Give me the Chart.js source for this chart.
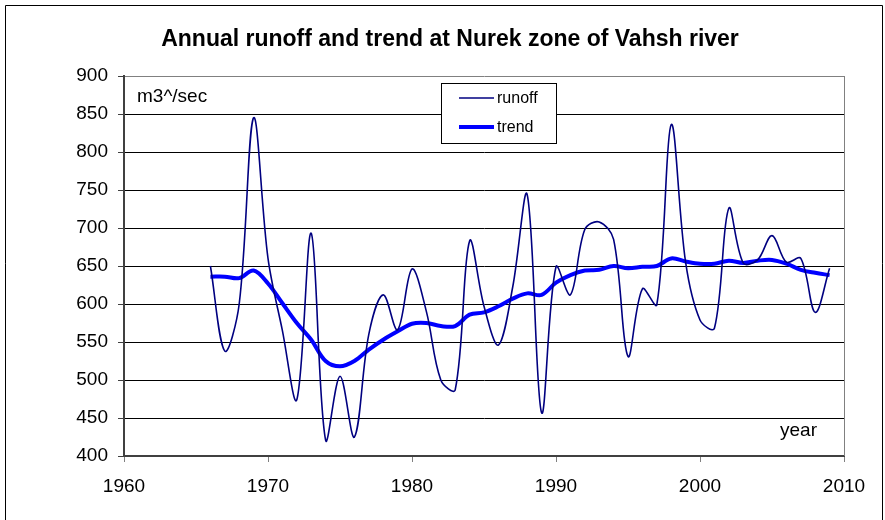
<!DOCTYPE html>
<html lang="en">
<head>
  <meta charset="UTF-8">
  <title>Annual runoff and trend at Nurek zone of Vahsh river</title>
  <script src="https://cdn.jsdelivr.net/npm/chart.js"></script>
  <style>
    html, body { margin: 0; padding: 0; background: #fff; }
    #wrap { width: 885px; height: 520px; position: relative; }
  </style>
</head>
<body>
  <div id="wrap"><canvas id="runoffChart" width="885" height="520"></canvas></div>

  <script>
    const years = [
      1966, 1967, 1968, 1969, 1970, 1971, 1972, 1973, 1974, 1975,
      1976, 1977, 1978, 1979, 1980, 1981, 1982, 1983, 1984, 1985,
      1986, 1987, 1988, 1989, 1990, 1991, 1992, 1993, 1994, 1995,
      1996, 1997, 1998, 1999, 2000, 2001, 2002, 2003, 2004, 2005,
      2006, 2007, 2008, 2009
    ];
    const runoff = [
      650, 538, 600, 845, 660, 565, 474, 693, 421, 505,
      425, 560, 612, 566, 646, 590, 500, 487, 683, 597,
      546, 623, 744, 457, 649, 612, 698, 708, 685, 531,
      620, 599, 836, 655, 579, 568, 726, 654, 658, 690,
      655, 660, 589, 647
    ];
    const trend = [
      636, 636, 634, 644, 627, 601, 575, 553, 525, 518,
      525, 540, 553, 564, 574, 575, 571, 571, 586, 589,
      597, 607, 614, 612, 628, 638, 644, 645, 650, 647,
      649, 650, 660, 656, 653, 653, 657, 654, 657, 658,
      653, 645, 641, 638
    ];
    const yearTicks = [1960, 1970, 1980, 1990, 2000, 2010];
    const titleText = 'Annual runoff and trend at Nurek zone of Vahsh river';
    const unitText = 'm3^/sec';
    const xAxisText = 'year';

    const FONT = '"Liberation Sans", Arial, sans-serif';

    // title, unit labels, legend box and outer frame
    const decorations = {
      id: 'decorations',
      afterDraw(chart) {
        const ctx = chart.ctx;
        const area = chart.chartArea;
        ctx.save();

        ctx.strokeStyle = '#000';
        ctx.lineWidth = 1;
        ctx.beginPath();
        ctx.moveTo(5.5, 530);
        ctx.lineTo(5.5, 5.5);
        ctx.lineTo(882.5, 5.5);
        ctx.lineTo(882.5, 530);
        ctx.stroke();

        // right edge of plot area
        ctx.strokeStyle = '#808080';
        ctx.beginPath();
        ctx.moveTo(Math.round(area.right) + 0.5, area.top);
        ctx.lineTo(Math.round(area.right) + 0.5, area.bottom);
        ctx.stroke();

        ctx.fillStyle = '#000';
        ctx.font = 'bold 23px ' + FONT;
        ctx.textAlign = 'center';
        ctx.textBaseline = 'middle';
        ctx.fillText(titleText, 450, 40);

        ctx.font = '19px ' + FONT;
        ctx.textAlign = 'left';
        ctx.fillText(unitText, 137, 97);
        ctx.fillText(xAxisText, 780, 431);

        // legend
        const lx = 441, ly = 83, lw = 115, lh = 60;
        ctx.fillStyle = '#fff';
        ctx.fillRect(lx, ly, lw, lh);
        ctx.strokeStyle = '#000';
        ctx.strokeRect(lx + 0.5, ly + 0.5, lw, lh);

        const items = [
          { label: 'runoff', color: '#000080', width: 1.5, y: 98 },
          { label: 'trend', color: '#0000FF', width: 4, y: 127 }
        ];
        ctx.font = '16px ' + FONT;
        items.forEach(function (it) {
          ctx.strokeStyle = it.color;
          ctx.lineWidth = it.width;
          ctx.beginPath();
          ctx.moveTo(459, it.y);
          ctx.lineTo(494, it.y);
          ctx.stroke();
          ctx.fillStyle = '#000';
          ctx.fillText(it.label, 497, it.y + 1);
        });

        ctx.restore();
      }
    };

    const ctx = document.getElementById('runoffChart').getContext('2d');
    new Chart(ctx, {
      type: 'line',
      data: {
        datasets: [
          {
            label: 'runoff',
            data: years.map((y, i) => ({ x: y, y: runoff[i] })),
            borderColor: '#000080',
            borderWidth: 1.6,
            pointRadius: 0,
            tension: 0.35,
            fill: false
          },
          {
            label: 'trend',
            data: years.map((y, i) => ({ x: y, y: trend[i] })),
            borderColor: '#0000FF',
            borderWidth: 4,
            pointRadius: 0,
            tension: 0.35,
            fill: false
          }
        ]
      },
      options: {
        responsive: false,
        animation: false,
        events: [],
        layout: { padding: { left: 0, right: 41, top: 76, bottom: 0 } },
        plugins: {
          legend: { display: false },
          title: { display: false },
          tooltip: { enabled: false }
        },
        scales: {
          x: {
            type: 'linear',
            min: 1960,
            max: 2010,
            afterBuildTicks: function (scale) {
              scale.ticks = yearTicks.map(v => ({ value: v }));
            },
            afterFit: function (scale) { scale.height = 64; },
            grid: {
              drawOnChartArea: false,
              drawTicks: true,
              tickLength: 6,
              tickColor: '#808080'
            },
            border: { display: true, color: '#404040', width: 2 },
            ticks: {
              color: '#000',
              font: { family: FONT, size: 19 },
              padding: 13,
              maxRotation: 0,
              callback: v => String(v)
            }
          },
          y: {
            min: 400,
            max: 900,
            afterFit: function (scale) { scale.width = 124; },
            grid: {
              color: ctx => ctx.tick && ctx.tick.value === 900 ? '#808080' : '#000',
              lineWidth: 1,
              drawTicks: true,
              tickLength: 6,
              tickColor: '#404040'
            },
            border: { display: true, color: '#404040', width: 2 },
            ticks: {
              stepSize: 50,
              color: '#000',
              font: { family: FONT, size: 19 },
              padding: 10
            }
          }
        }
      },
      plugins: [decorations]
    });
  </script>
</body>
</html>
